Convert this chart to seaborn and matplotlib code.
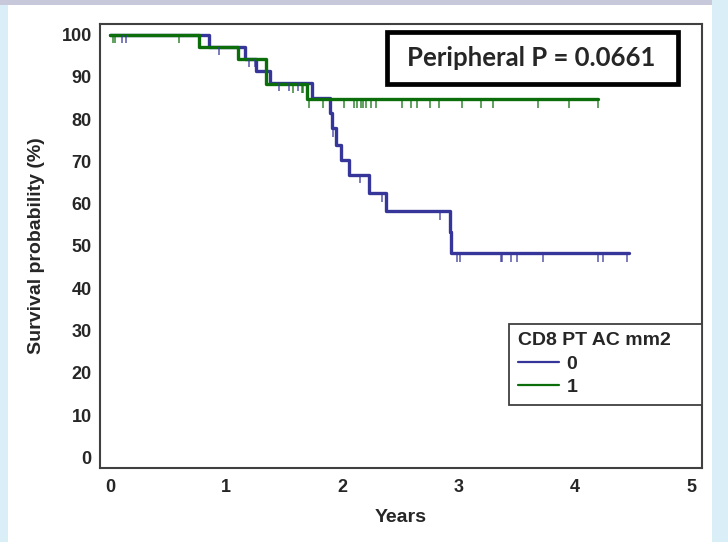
import numpy as np
import pandas as pd
import matplotlib
matplotlib.use("Agg")
import matplotlib.pyplot as plt
import matplotlib.patches as mpatches
from matplotlib.lines import Line2D
from matplotlib.ticker import MultipleLocator
import seaborn as sns

# Kaplan-Meier steps (years, survival %)
blue_times = [0.854, 1.16, 1.254, 1.375, 1.733, 1.89, 1.913, 1.947, 1.99, 2.053, 2.228, 2.371, 2.927, 2.935]
blue_surv = [97.1, 94.3, 91.5, 88.6, 85.0, 81.5, 77.8, 73.9, 70.3, 66.8, 62.5, 58.2, 53.4, 48.3]
blue_end = 4.46
blue_censor = [0.10, 0.135, 0.936, 1.197, 1.25, 1.455, 1.54, 1.62, 1.92, 2.148, 2.34, 2.84,
               2.984, 3.013, 3.36, 3.37, 3.445, 3.50, 3.72, 4.195, 4.24, 4.447]

green_times = [0.765, 1.10, 1.34, 1.695]
green_surv = [97.1, 94.2, 88.2, 84.7]
green_end = 4.20
green_censor = [0.028, 0.043, 0.593, 1.575, 1.647, 1.66, 1.71, 1.83, 2.01, 2.10, 2.125, 2.157,
                2.177, 2.205, 2.24, 2.29, 2.51, 2.59, 2.64, 2.75, 2.83, 3.03, 3.19, 3.29,
                3.68, 3.95, 4.20]

group_labels = ["0", "1"]
colors = {"0": "#35359a", "1": "#0b6e0b"}
legend_title = "CD8 PT AC mm2"
pval_text = "Peripheral P = 0.0661"


def km_frame(times, surv, end, label):
    t = [0.0] + list(times) + [end]
    s = [100.0] + list(surv) + [surv[-1]]
    return pd.DataFrame({"years": t, "surv": s, "group": label})


def surv_at(times, surv, t):
    idx = np.searchsorted(times, t, side="right")
    levels = np.concatenate([[100.0], surv])
    return levels[idx]


df = pd.concat([km_frame(blue_times, blue_surv, blue_end, "0"),
                km_frame(green_times, green_surv, green_end, "1")], ignore_index=True)

sns.set_style("white")
plt.rcParams["font.family"] = ["Liberation Sans", "DejaVu Sans"]
plt.rcParams["font.weight"] = "bold"

fig = plt.figure(figsize=(7.28, 5.42), dpi=100)
# page background bits around the chart
fig.patches.append(mpatches.Rectangle((0, 0), 8 / 728, 1, transform=fig.transFigure,
                                      fc="#daeef8", ec="none", zorder=-10))
fig.patches.append(mpatches.Rectangle((712 / 728, 0), 16 / 728, 1, transform=fig.transFigure,
                                      fc="#daeef8", ec="none", zorder=-10))
fig.patches.append(mpatches.Rectangle((0, 1 - 5 / 542), 712 / 728, 5 / 542, transform=fig.transFigure,
                                      fc="#c7c9da", ec="none", zorder=-10))

ax = fig.add_axes([100 / 728, 1 - 468 / 542, 602.3 / 728, 444 / 542])

sns.lineplot(data=df, x="years", y="surv", hue="group", palette=colors,
             drawstyle="steps-post", estimator=None, sort=False, lw=2.4,
             legend=False, ax=ax)

# censor marks hanging below the curve
for times, surv, cens, g in [(blue_times, blue_surv, blue_censor, "0"),
                             (green_times, green_surv, green_censor, "1")]:
    lv = surv_at(times, surv, np.array(cens))
    ax.vlines(cens, lv - 2.0, lv, color=colors[g], lw=1.3, alpha=0.7)

ax.set_xlim(-0.086, 5.093)
ax.set_ylim(-2.5, 102.5)
ax.set_xticks(range(6))
ax.set_yticks(range(0, 101, 10))
ax.yaxis.set_minor_locator(MultipleLocator(5))
ax.tick_params(axis="both", which="both", direction="in", color="#404040", width=1.4)
ax.tick_params(axis="both", which="major", length=7, labelsize=13)
ax.tick_params(axis="x", which="major", pad=8)
ax.tick_params(axis="y", which="major", pad=6)
ax.tick_params(axis="y", which="minor", length=3.5)
for lab in ax.get_xticklabels() + ax.get_yticklabels():
    lab.set_fontweight("bold")
for sp in ax.spines.values():
    sp.set_color("#404040")
    sp.set_linewidth(1.5)

ax.set_xlabel("Years", fontsize=14, fontweight="bold", labelpad=9)
ax.set_ylabel("Survival probability (%)", fontsize=14, fontweight="bold", labelpad=12)

# p-value box
ax.add_patch(mpatches.Rectangle((0.476, 0.864), 0.484, 0.118, transform=ax.transAxes,
                                fc="white", ec="black", lw=3.4, zorder=5))
ax.text(0.716, 0.923, pval_text, transform=ax.transAxes, ha="center", va="center",
        fontsize=18.5, fontweight="bold", family=["Lato", "DejaVu Sans"], zorder=6)

handles = [Line2D([], [], color=colors[g], lw=1.6) for g in group_labels]
leg = ax.legend(handles, group_labels, title=legend_title, loc="lower left",
                bbox_to_anchor=(0.679, 0.142, 0.321, 0.185), mode="expand",
                alignment="left", frameon=True, fancybox=False, framealpha=1,
                edgecolor="#404040", prop={"weight": "bold", "size": 14},
                title_fontproperties={"weight": "bold", "size": 14},
                handlelength=2.1, handletextpad=0.4, labelspacing=0.3,
                borderpad=0.45, borderaxespad=0)
leg.get_frame().set_linewidth(1.3)

fig.savefig("out.png", dpi=100)
